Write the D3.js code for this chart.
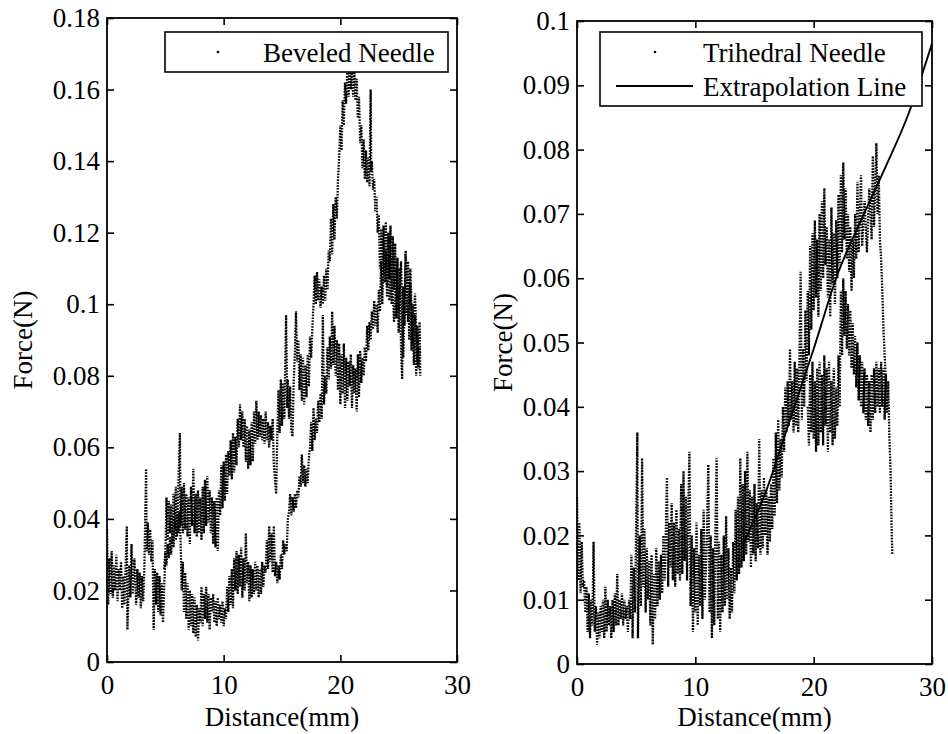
<!DOCTYPE html>
<html>
<head>
<meta charset="utf-8">
<script src="https://cdn.jsdelivr.net/npm/d3@7"></script>
<style>
body { margin: 0; background: #fff; }
text { font-family: "Liberation Serif", "Times New Roman", serif; fill: #000; }
</style>
</head>
<body>
<script>
// tick values + labels
var xTicks = [0, 10, 20, 30];
var xTickLabels = ['0', '10', '20', '30'];
var leftTicks = [0, 0.02, 0.04, 0.06, 0.08, 0.1, 0.12, 0.14, 0.16, 0.18];
var leftTickLabels = ['0', '0.02', '0.04', '0.06', '0.08', '0.1', '0.12', '0.14', '0.16', '0.18'];
var rightTicks = [0, 0.01, 0.02, 0.03, 0.04, 0.05, 0.06, 0.07, 0.08, 0.09, 0.1];
var rightTickLabels = ['0', '0.01', '0.02', '0.03', '0.04', '0.05', '0.06', '0.07', '0.08', '0.09', '0.1'];

// beveled needle as [distance mm, force N]
// upper trace (starts at 0, peaks ~21mm)
var bevelUpper = [[0,0.037],[0.1,0.016],[0.2,0.029],[0.3,0.019],[0.4,0.031],[0.5,0.018],[0.6,0.027],[0.7,0.02],[0.8,0.03],[0.9,0.017],
[1,0.026],[1.1,0.02],[1.2,0.028],[1.3,0.015],[1.4,0.024],[1.5,0.016],[1.6,0.027],[1.7,0.038],[1.75,0.009],[1.9,0.027],
[2,0.018],[2.1,0.033],[2.2,0.019],[2.35,0.029],[2.5,0.016],[2.6,0.026],[2.7,0.018],[2.8,0.025],[2.9,0.015],[3,0.024],
[3.1,0.017],[3.2,0.026],[3.35,0.054],[3.4,0.031],[3.5,0.039],[3.6,0.03],[3.7,0.037],[3.8,0.028],[3.9,0.034],[4,0.009],
[4.1,0.026],[4.2,0.016],[4.3,0.025],[4.4,0.014],[4.5,0.024],[4.6,0.013],[4.7,0.022],[4.8,0.011],[4.9,0.021],[5,0.029],
[5.1,0.046],[5.2,0.034],[5.3,0.045],[5.4,0.036],[5.5,0.044],[5.6,0.033],[5.7,0.047],[5.8,0.037],[5.9,0.049],[6,0.035],
[6.1,0.047],[6.25,0.064],[6.3,0.038],[6.4,0.049],[6.5,0.036],[6.6,0.05],[6.7,0.037],[6.8,0.047],[6.9,0.035],[7,0.046],
[7.1,0.033],[7.2,0.049],[7.3,0.038],[7.4,0.054],[7.5,0.036],[7.6,0.047],[7.7,0.035],[7.8,0.048],[7.9,0.036],[8,0.046],
[8.1,0.034],[8.2,0.049],[8.3,0.036],[8.4,0.051],[8.5,0.038],[8.6,0.052],[8.7,0.039],[8.8,0.048],[8.9,0.036],[9,0.046],
[9.1,0.033],[9.2,0.045],[9.3,0.032],[9.4,0.046],[9.5,0.031],[9.6,0.048],[9.7,0.041],[9.8,0.055],[9.9,0.043],[10,0.056],
[10.1,0.045],[10.2,0.058],[10.3,0.047],[10.4,0.059],[10.5,0.052],[10.6,0.062],[10.7,0.051],[10.8,0.064],[10.9,0.053],[11,0.063],
[11.1,0.055],[11.2,0.068],[11.3,0.06],[11.4,0.072],[11.5,0.062],[11.6,0.07],[11.7,0.06],[11.8,0.068],[11.9,0.056],[12,0.066],
[12.1,0.054],[12.2,0.065],[12.3,0.055],[12.4,0.067],[12.5,0.056],[12.6,0.07],[12.7,0.061],[12.8,0.073],[12.9,0.062],[13,0.07],
[13.1,0.063],[13.2,0.069],[13.3,0.062],[13.4,0.068],[13.5,0.061],[13.6,0.07],[13.7,0.062],[13.8,0.067],[13.9,0.06],[14,0.066],
[14.1,0.062],[14.2,0.068],[14.3,0.055],[14.5,0.047],[14.6,0.064],[14.7,0.076],[14.8,0.064],[14.9,0.079],[15,0.066],[15.1,0.078],
[15.2,0.068],[15.35,0.097],[15.45,0.071],[15.5,0.079],[15.6,0.068],[15.7,0.077],[15.8,0.065],[15.9,0.063],[16,0.078],[16.1,0.086],
[16.2,0.098],[16.3,0.084],[16.4,0.09],[16.5,0.076],[16.6,0.086],[16.7,0.073],[16.8,0.085],[16.9,0.072],[17,0.083],[17.1,0.074],
[17.2,0.086],[17.3,0.077],[17.4,0.091],[17.5,0.085],[17.6,0.093],[17.7,0.1],[17.8,0.108],[17.9,0.1],[18,0.109],[18.1,0.101],
[18.2,0.107],[18.3,0.099],[18.4,0.105],[18.5,0.1],[18.6,0.108],[18.7,0.101],[18.8,0.11],[18.9,0.104],[19,0.115],[19.1,0.112],
[19.2,0.124],[19.3,0.114],[19.4,0.128],[19.5,0.118],[19.6,0.13],[19.7,0.124],[19.8,0.135],[19.9,0.141],[20,0.15],[20.1,0.143],
[20.2,0.157],[20.3,0.15],[20.4,0.162],[20.5,0.156],[20.6,0.166],[20.7,0.158],[20.8,0.167],[20.9,0.16],[21,0.166],[21.1,0.158],
[21.2,0.165],[21.3,0.157],[21.4,0.163],[21.5,0.152],[21.6,0.158],[21.7,0.145],[21.8,0.15],[21.9,0.138],[22,0.146],[22.1,0.135],
[22.2,0.143],[22.3,0.134],[22.4,0.141],[22.5,0.133],[22.6,0.16],[22.65,0.137],[22.7,0.14],[22.8,0.132],[22.9,0.135],[23,0.126],
[23.1,0.13],[23.2,0.12],[23.3,0.125],[23.4,0.11],[23.5,0.121],[23.6,0.104],[23.7,0.122],[23.8,0.108],[23.9,0.123],[24,0.102],
[24.1,0.12],[24.2,0.107],[24.3,0.122],[24.4,0.1],[24.5,0.119],[24.6,0.104],[24.7,0.117],[24.8,0.096],[24.9,0.113],[25,0.092],
[25.1,0.11],[25.2,0.088],[25.3,0.079],[25.4,0.105],[25.5,0.094],[25.6,0.114],[25.7,0.097],[25.8,0.112],[25.9,0.09],[26,0.106],
[26.1,0.087],[26.2,0.1],[26.3,0.083],[26.4,0.097],[26.5,0.08],[26.6,0.094],[26.7,0.082],[26.8,0.088]];

// lower trace (dips to ~0.007 near 8mm)
var bevelLower = [[4.9,0.026],[5,0.031],[5.1,0.027],[5.2,0.033],[5.3,0.029],[5.4,0.035],[5.5,0.03],[5.6,0.037],[5.7,0.032],[5.8,0.039],
[5.9,0.034],[6,0.041],[6.1,0.036],[6.2,0.042],[6.3,0.035],[6.4,0.02],[6.5,0.028],[6.6,0.014],[6.7,0.025],[6.8,0.012],
[6.9,0.022],[7,0.009],[7.1,0.02],[7.2,0.01],[7.3,0.019],[7.4,0.008],[7.5,0.018],[7.6,0.007],[7.7,0.016],[7.8,0.006],
[7.9,0.015],[8,0.011],[8.1,0.021],[8.2,0.01],[8.3,0.019],[8.4,0.012],[8.5,0.021],[8.6,0.011],[8.7,0.019],[8.8,0.009],
[8.9,0.018],[9,0.014],[9.1,0.019],[9.2,0.011],[9.3,0.017],[9.4,0.01],[9.5,0.018],[9.6,0.012],[9.7,0.016],[9.8,0.011],
[9.9,0.017],[10,0.01],[10.1,0.015],[10.2,0.012],[10.3,0.021],[10.4,0.014],[10.5,0.024],[10.6,0.016],[10.7,0.026],[10.8,0.015],
[10.9,0.029],[11,0.02],[11.1,0.031],[11.2,0.019],[11.3,0.03],[11.4,0.021],[11.5,0.032],[11.6,0.018],[11.7,0.029],[11.8,0.02],
[11.9,0.036],[12,0.022],[12.1,0.028],[12.2,0.017],[12.3,0.027],[12.4,0.018],[12.5,0.026],[12.6,0.019],[12.7,0.028],[12.8,0.02],
[12.9,0.027],[13,0.018],[13.1,0.026],[13.2,0.019],[13.3,0.028],[13.4,0.021],[13.5,0.027],[13.6,0.025],[13.7,0.034],[13.8,0.026],
[13.9,0.038],[14,0.028],[14.1,0.036],[14.2,0.025],[14.3,0.038],[14.4,0.024],[14.5,0.028],[14.6,0.022],[14.7,0.027],[14.8,0.023],
[14.9,0.03],[15,0.026],[15.1,0.034],[15.2,0.03],[15.3,0.033],[15.4,0.031],[15.5,0.04],[15.6,0.042],[15.7,0.047],[15.8,0.041],
[15.9,0.046],[16,0.042],[16.1,0.047],[16.2,0.043],[16.3,0.048],[16.4,0.046],[16.5,0.052],[16.6,0.049],[16.7,0.058],[16.8,0.05],
[16.9,0.055],[17,0.049],[17.1,0.054],[17.2,0.05],[17.3,0.057],[17.4,0.06],[17.5,0.067],[17.6,0.059],[17.7,0.071],[17.8,0.062],
[17.9,0.068],[18,0.064],[18.1,0.073],[18.2,0.067],[18.3,0.075],[18.4,0.068],[18.5,0.097],[18.6,0.072],[18.7,0.08],[18.8,0.075],
[18.9,0.088],[19,0.079],[19.1,0.091],[19.2,0.082],[19.3,0.098],[19.4,0.083],[19.5,0.094],[19.6,0.08],[19.7,0.09],[19.8,0.076],
[19.9,0.089],[20,0.072],[20.1,0.086],[20.2,0.075],[20.3,0.089],[20.4,0.071],[20.5,0.085],[20.6,0.073],[20.7,0.084],[20.8,0.077],
[20.9,0.086],[21,0.071],[21.1,0.083],[21.2,0.075],[21.3,0.082],[21.4,0.07],[21.5,0.086],[21.6,0.074],[21.7,0.087],[21.8,0.078],
[21.9,0.085],[22,0.08],[22.1,0.088],[22.2,0.084],[22.3,0.094],[22.4,0.087],[22.5,0.095],[22.6,0.09],[22.7,0.098],[22.8,0.093],
[22.9,0.101],[23,0.094],[23.1,0.1],[23.2,0.092],[23.3,0.104],[23.4,0.098],[23.5,0.112],[23.6,0.1],[23.7,0.118],[23.8,0.106],
[23.9,0.115],[24,0.105],[24.1,0.119],[24.2,0.101],[24.4,0.113],[24.6,0.095],[24.8,0.11],[25,0.098],[25.2,0.112],[25.4,0.085],
[25.6,0.115],[25.8,0.095],[26,0.11],[26.2,0.089],[26.4,0.103],[26.6,0.083],[26.8,0.095],[26.85,0.08]];

// trihedral needle
var triMain = [[0,0.026],[0.1,0.013],[0.2,0.022],[0.3,0.011],[0.4,0.019],[0.5,0.012],[0.6,0.013],[0.7,0.008],[0.8,0.012],[0.9,0.005],
[1,0.011],[1.1,0.004],[1.2,0.01],[1.3,0.006],[1.4,0.019],[1.5,0.005],[1.6,0.009],[1.7,0.003],[1.8,0.008],[1.9,0.004],
[2,0.009],[2.1,0.005],[2.2,0.01],[2.3,0.004],[2.4,0.012],[2.5,0.005],[2.6,0.01],[2.7,0.006],[2.8,0.009],[2.9,0.004],
[3,0.01],[3.1,0.005],[3.2,0.011],[3.3,0.006],[3.4,0.014],[3.5,0.006],[3.6,0.01],[3.7,0.007],[3.8,0.011],[3.9,0.006],
[4,0.01],[4.1,0.007],[4.2,0.009],[4.3,0.005],[4.4,0.01],[4.5,0.007],[4.6,0.017],[4.7,0.004],[4.8,0.015],[4.9,0.008],
[5,0.022],[5.1,0.036],[5.15,0.004],[5.3,0.02],[5.4,0.009],[5.5,0.032],[5.6,0.012],[5.7,0.021],[5.8,0.008],[5.9,0.018],
[6,0.01],[6.1,0.016],[6.2,0.006],[6.3,0.017],[6.4,0.003],[6.5,0.014],[6.6,0.007],[6.7,0.018],[6.8,0.009],[6.9,0.016],
[7,0.01],[7.1,0.017],[7.2,0.011],[7.3,0.02],[7.4,0.013],[7.5,0.02],[7.6,0.029],[7.7,0.012],[7.8,0.022],[7.9,0.015],
[8,0.025],[8.1,0.013],[8.2,0.022],[8.3,0.012],[8.4,0.024],[8.5,0.014],[8.6,0.021],[8.7,0.013],[8.8,0.028],[8.9,0.014],
[9,0.03],[9.1,0.016],[9.2,0.026],[9.3,0.013],[9.4,0.024],[9.5,0.033],[9.6,0.009],[9.7,0.02],[9.8,0.005],[9.9,0.018],
[10,0.008],[10.1,0.022],[10.2,0.006],[10.3,0.017],[10.4,0.009],[10.5,0.021],[10.6,0.007],[10.7,0.024],[10.8,0.01],[10.9,0.015],
[11,0.022],[11.1,0.031],[11.2,0.008],[11.3,0.02],[11.4,0.004],[11.5,0.018],[11.6,0.006],[11.7,0.021],[11.8,0.032],[11.9,0.007],
[12,0.019],[12.1,0.005],[12.2,0.017],[12.3,0.008],[12.4,0.02],[12.5,0.009],[12.6,0.023],[12.7,0.01],[12.8,0.018],[12.9,0.007],
[13,0.015],[13.1,0.008],[13.2,0.019],[13.3,0.011],[13.4,0.024],[13.5,0.013],[13.6,0.026],[13.7,0.014],[13.8,0.032],[13.9,0.015],
[14,0.028],[14.1,0.016],[14.2,0.03],[14.3,0.017],[14.4,0.033],[14.5,0.019],[14.6,0.027],[14.7,0.015],[14.8,0.026],[14.9,0.017],
[15,0.028],[15.1,0.016],[15.2,0.025],[15.3,0.018],[15.4,0.035],[15.5,0.017],[15.6,0.027],[15.7,0.018],[15.8,0.029],[15.9,0.02],
[16,0.027],[16.1,0.017],[16.2,0.026],[16.3,0.019],[16.4,0.028],[16.5,0.021],[16.6,0.032],[16.7,0.023],[16.8,0.036],[16.9,0.025],
[17,0.038],[17.1,0.027],[17.2,0.035],[17.3,0.029],[17.4,0.04],[17.5,0.033],[17.6,0.043],[17.7,0.036],[17.8,0.044],[17.9,0.037],
[18,0.049],[18.1,0.038],[18.2,0.044],[18.3,0.036],[18.4,0.047],[18.5,0.037],[18.6,0.046],[18.7,0.036],[18.8,0.048],[18.9,0.061],
[19,0.038],[19.1,0.049],[19.2,0.04],[19.3,0.055],[19.4,0.044],[19.5,0.058],[19.6,0.048],[19.7,0.065],[19.8,0.052],[19.9,0.067],
[20,0.055],[20.1,0.069],[20.2,0.057],[20.3,0.066],[20.4,0.054],[20.5,0.07],[20.6,0.058],[20.7,0.072],[20.8,0.06],[20.9,0.074],
[21,0.062],[21.1,0.068],[21.2,0.057],[21.3,0.066],[21.4,0.054],[21.5,0.071],[21.6,0.059],[21.7,0.067],[21.8,0.056],[21.9,0.069],
[22,0.06],[22.1,0.073],[22.2,0.062],[22.3,0.076],[22.4,0.064],[22.5,0.078],[22.6,0.066],[22.7,0.074],[22.8,0.063],[22.9,0.07],
[23,0.061],[23.1,0.068],[23.2,0.058],[23.3,0.066],[23.4,0.06],[23.5,0.07],[23.6,0.063],[23.7,0.075],[23.8,0.064],[24,0.076],
[24.1,0.065],[24.3,0.072],[24.5,0.064],[24.7,0.074],[24.9,0.066],[25,0.079],[25.1,0.068],[25.3,0.081],[25.4,0.07],[25.5,0.076],
[25.6,0.066],[25.7,0.063],[25.8,0.058],[25.9,0.052],[26,0.048],[26.1,0.044]];

var triLower = [[19.5,0.04],[19.6,0.034],[19.7,0.045],[19.8,0.036],[19.9,0.047],[20,0.035],[20.1,0.044],[20.2,0.033],[20.3,0.046],[20.4,0.034],
[20.5,0.047],[20.6,0.036],[20.7,0.045],[20.8,0.034],[20.9,0.048],[21,0.037],[21.1,0.046],[21.2,0.033],[21.3,0.047],[21.4,0.036],
[21.5,0.044],[21.6,0.034],[21.7,0.046],[21.8,0.035],[21.9,0.043],[22,0.037],[22.1,0.048],[22.2,0.04],[22.3,0.058],[22.4,0.048],
[22.5,0.06],[22.6,0.051],[22.7,0.058],[22.8,0.049],[22.9,0.056],[23,0.048],[23.1,0.055],[23.2,0.046],[23.3,0.053],[23.4,0.045],
[23.5,0.051],[23.6,0.043],[23.7,0.05],[23.8,0.041],[23.9,0.048],[24,0.04],[24.1,0.047],[24.2,0.039],[24.3,0.046],[24.4,0.038],
[24.5,0.045],[24.6,0.037],[24.7,0.044],[24.8,0.036],[24.9,0.045],[25,0.038],[25.1,0.046],[25.2,0.039],[25.3,0.047],[25.4,0.04],
[25.5,0.046],[25.6,0.039],[25.7,0.047],[25.8,0.04],[25.9,0.046],[26,0.038],[26.1,0.045],[26.2,0.039],[26.3,0.044],[26.4,0.035],
[26.5,0.03],[26.55,0.025],[26.6,0.02],[26.65,0.017]];

// fitted extrapolation line (right panel)
var extrapX = [14, 16, 18, 20, 22, 24, 26, 28, 30];
var extrapY = [0.0185, 0.027, 0.038, 0.049, 0.0605, 0.069, 0.077, 0.0855, 0.0965];

var svg = d3.select('body').append('svg')
	.attr('width', 948)
	.attr('height', 734);

var tickLen = 7;
var fontSize = 27;

function drawPanel(p) {
	var x = d3.scaleLinear().domain([0, 30]).range([p.left, p.right]);
	var y = d3.scaleLinear().domain([0, p.yMax]).range([p.bottom, p.top]);

	var g = svg.append('g');

	// clip so data never leaks out of the box
	svg.append('defs').append('clipPath').attr('id', p.id + '-clip')
		.append('rect')
		.attr('x', p.left).attr('y', p.top)
		.attr('width', p.right - p.left).attr('height', p.bottom - p.top);

	var plot = g.append('g').attr('clip-path', 'url(#' + p.id + '-clip)');

	var line = d3.line()
		.x(function(d) { return x(d[0]); })
		.y(function(d) { return y(d[1]); });

	// dotted marker traces (heavier so clusters go black like the scan)
	p.series.forEach(function(s) {
		plot.append('path')
			.datum(s)
			.attr('d', line)
			.attr('fill', 'none')
			.attr('stroke', '#000')
			.attr('stroke-width', 2.3)
			.attr('stroke-dasharray', '1.6 1.3');
	});

	if (p.fitX) {
		var fit = p.fitX.map(function(v, i) { return [v, p.fitY[i]]; });
		plot.append('path')
			.datum(fit)
			.attr('d', line.curve(d3.curveMonotoneX))
			.attr('fill', 'none')
			.attr('stroke', '#000')
			.attr('stroke-width', 1.9);
	}

	// axes, ticks pointing inward
	var fmtX = function(d, i) { return xTickLabels[i]; };
	var fmtY = function(d, i) { return p.yLabels[i]; };

	var axes = [
		{ a: d3.axisBottom(x).tickValues(xTicks).tickFormat(fmtX).tickPadding(13), t: 'translate(0,' + p.bottom + ')' },
		{ a: d3.axisTop(x).tickValues(xTicks).tickFormat(''), t: 'translate(0,' + p.top + ')' },
		{ a: d3.axisLeft(y).tickValues(p.yTicks).tickFormat(fmtY).tickPadding(7), t: 'translate(' + p.left + ',0)' },
		{ a: d3.axisRight(y).tickValues(p.yTicks).tickFormat(''), t: 'translate(' + p.right + ',0)' }
	];
	axes.forEach(function(ax) {
		var ag = g.append('g')
			.attr('transform', ax.t)
			.call(ax.a.tickSizeInner(-tickLen).tickSizeOuter(0));
		ag.select('.domain').remove();
		ag.selectAll('line').attr('stroke', '#000').attr('stroke-width', 1.6);
		ag.selectAll('text')
			.style('font-family', '"Liberation Serif", serif')
			.style('font-size', fontSize + 'px')
			.attr('fill', '#000');
	});

	// the box
	g.append('rect')
		.attr('x', p.left).attr('y', p.top)
		.attr('width', p.right - p.left).attr('height', p.bottom - p.top)
		.attr('fill', 'none')
		.attr('stroke', '#000')
		.attr('stroke-width', 1.8);

	// axis titles
	g.append('text')
		.attr('x', (p.left + p.right) / 2)
		.attr('y', 726)
		.attr('text-anchor', 'middle')
		.style('font-size', fontSize + 'px')
		.text('Distance(mm)');

	g.append('text')
		.attr('transform', 'translate(' + p.yTitleX + ',' + ((p.top + p.bottom) / 2) + ') rotate(-90)')
		.attr('text-anchor', 'middle')
		.style('font-size', fontSize + 'px')
		.text('Force(N)');

	// legend
	var lg = g.append('g');
	lg.append('rect')
		.attr('x', p.legend.x).attr('y', p.legend.y)
		.attr('width', p.legend.w).attr('height', p.legend.h)
		.attr('fill', '#fff')
		.attr('stroke', '#000')
		.attr('stroke-width', 1.6);
	p.legend.items.forEach(function(it, i) {
		var cy = p.legend.y + 20 + i * 34;
		if (it.kind === 'dot') {
			lg.append('circle')
				.attr('cx', it.mx).attr('cy', cy)
				.attr('r', 1.3)
				.attr('fill', '#000');
		} else {
			lg.append('line')
				.attr('x1', it.mx - 39).attr('x2', it.mx + 38)
				.attr('y1', cy).attr('y2', cy)
				.attr('stroke', '#000')
				.attr('stroke-width', 1.8);
		}
		lg.append('text')
			.attr('x', it.tx)
			.attr('y', cy + 10)
			.style('font-size', fontSize + 'px')
			.text(it.label);
	});
}

drawPanel({
	id: 'bevel',
	left: 107, right: 457, top: 18, bottom: 662,
	yMax: 0.18, yTicks: leftTicks, yLabels: leftTickLabels,
	yTitleX: 32,
	series: [bevelUpper, bevelLower],
	legend: { x: 165, y: 32, w: 283, h: 40,
		items: [{ kind: 'dot', mx: 218, tx: 263, label: 'Beveled Needle' }] }
});

drawPanel({
	id: 'tri',
	left: 577, right: 932, top: 21, bottom: 664,
	yMax: 0.1, yTicks: rightTicks, yLabels: rightTickLabels,
	yTitleX: 512,
	series: [triMain, triLower],
	fitX: extrapX, fitY: extrapY,
	legend: { x: 600, y: 32, w: 322, h: 74,
		items: [
			{ kind: 'dot', mx: 655, tx: 703, label: 'Trihedral Needle' },
			{ kind: 'line', mx: 655, tx: 703, label: 'Extrapolation Line' }
		] }
});
</script>
</body>
</html>
